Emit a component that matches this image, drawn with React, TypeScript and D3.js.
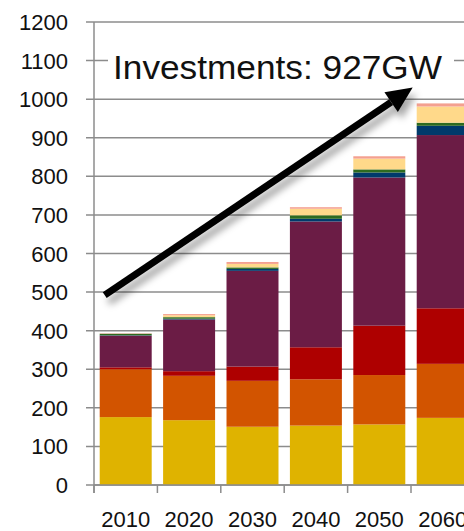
import * as d3 from 'd3';

const years = ['2010', '2020', '2030', '2040', '2050', '2060'];
const yTicks = [0, 100, 200, 300, 400, 500, 600, 700, 800, 900, 1000, 1100, 1200];

// stacked series, bottom to top
const seriesNames = ['s1', 's2', 's3', 's4', 's5', 's6', 's7', 's8'];
const s1 = [176, 168, 151, 154, 157, 174];
const s2 = [124, 115, 119, 120, 128, 140];
const s3 = [5, 12, 37, 83, 128, 144];
const s4 = [82, 134, 248, 326, 384, 449];
const s5 = [1, 2, 5, 7, 13, 24];
const s6 = [4, 4, 4, 9, 8, 8];
const s7 = [0, 5, 9, 17, 28, 42];
const s8 = [1, 3, 5, 4, 6, 8];
const colors = ['#DFB300', '#D25400', '#AE0000', '#6B1C45', '#003A6B', '#2E6B1F', '#FFD98A', '#F4A090'];

const annotation = 'Investments: 927GW';

export default function App() {
  const width = 464;
  const height = 531;
  const x0 = 94;
  const step = 63.4;

  const x = d3.scaleBand<string>()
    .domain(years)
    .range([x0, x0 + step * years.length])
    .paddingInner(0.18)
    .paddingOuter(0.09);

  const y = d3.scaleLinear().domain([0, 1200]).range([485, 22]);

  const table = years.map((yr, i) => ({
    year: yr,
    s1: s1[i], s2: s2[i], s3: s3[i], s4: s4[i],
    s5: s5[i], s6: s6[i], s7: s7[i], s8: s8[i],
  }));
  const stacked = d3.stack<any>().keys(seriesNames)(table);

  const font = '"Liberation Sans", Arial, sans-serif';
  const grid = '#8c8c8c';

  // arrow from 2010 level up towards the 2060 total
  const ax1 = x('2010')! + 5;
  const ay1 = y(492);
  const ax2 = x('2060')! - 4;
  const ay2 = y(1030);
  const ang = Math.atan2(ay2 - ay1, ax2 - ax1);
  const headLen = 26;
  const headW = 12;
  const bx = ax2 - headLen * Math.cos(ang);
  const by = ay2 - headLen * Math.sin(ang);
  const px = -Math.sin(ang);
  const py = Math.cos(ang);
  const head = `M${ax2},${ay2} L${bx + px * headW},${by + py * headW} L${bx - px * headW},${by - py * headW} Z`;

  return (
    <svg width={width} height={height} style={{ position: 'absolute', left: 0, top: 0, background: 'white' }}>
      <defs>
        <filter id="shadow" x="-20%" y="-20%" width="140%" height="160%">
          <feDropShadow dx="4" dy="7" stdDeviation="3.5" floodColor="#000" floodOpacity="0.35" />
        </filter>
      </defs>

      {/* gridlines + y ticks */}
      {yTicks.map(t => (
        <g key={t}>
          <line x1={86} x2={width} y1={y(t)} y2={y(t)} stroke={grid} strokeWidth={1.5} />
          <text x={68} y={y(t) + 8} textAnchor="end" fontFamily={font} fontSize={22} fill="#111">{t}</text>
        </g>
      ))}

      {/* bars */}
      {stacked.map((layer, si) => (
        <g key={layer.key} fill={colors[si]}>
          {layer.map((d, i) => (
            <rect
              key={i}
              x={x(years[i])}
              width={x.bandwidth()}
              y={y(d[1])}
              height={Math.max(0, y(d[0]) - y(d[1]))}
            />
          ))}
        </g>
      ))}

      {/* axes */}
      <line x1={x0} x2={x0} y1={y(1200)} y2={493} stroke={grid} strokeWidth={1.5} />
      <line x1={x0} x2={width} y1={y(0)} y2={y(0)} stroke={grid} strokeWidth={1.5} />
      {years.map((yr, i) => (
        <line key={yr} x1={x0 + step * i} x2={x0 + step * i} y1={y(0)} y2={493} stroke={grid} strokeWidth={1.5} />
      ))}
      {years.map(yr => (
        <text key={yr} x={x(yr)! + x.bandwidth() / 2} y={527} textAnchor="middle" fontFamily={font} fontSize={22} fill="#111">{yr}</text>
      ))}

      {/* annotation */}
      <rect x={108} y={42} width={346} height={50} fill="white" />
      <text x={113} y={79} fontFamily={font} fontSize={33} fill="#111" textLength={329} lengthAdjust="spacingAndGlyphs">{annotation}</text>

      <g filter="url(#shadow)">
        <line x1={ax1} y1={ay1} x2={bx} y2={by} stroke="#000" strokeWidth={7} />
        <path d={head} fill="#000" />
      </g>
    </svg>
  );
}
